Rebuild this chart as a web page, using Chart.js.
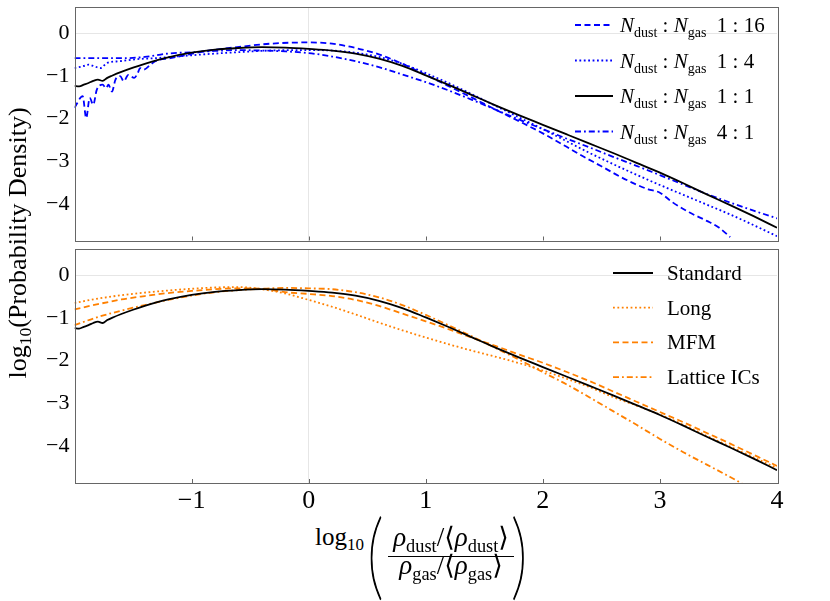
<!DOCTYPE html>
<html>
<head>
<meta charset="utf-8">
<script src="https://cdn.jsdelivr.net/npm/chart.js@4.4.0/dist/chart.umd.min.js"></script>
<style>
  body { margin: 0; background: #fff; }
  #wrap { position: relative; width: 830px; height: 601px; font-family: "Liberation Serif", "DejaVu Serif", serif; color: #000; }
  canvas { position: absolute; left: 0; }
  #top { top: 0; }
  #bot { top: 245px; }
  .lbl { position: absolute; white-space: nowrap; line-height: 1; }
  .lbl sub { font-size: 68%; vertical-align: -0.3em; line-height: 0; }
  .lbl i { font-style: italic; }
  #ytitle { left: -182px; top: 230px; width: 400px; text-align: center; font-size: 26px; transform: rotate(-90deg); }
  #xlog { left: 315px; top: 524px; font-size: 25px; }
  .paren { font-family: Lato, "DejaVu Sans", sans-serif; font-weight: 200; font-size: 94px; top: 505px; transform: scaleX(0.7); transform-origin: left top; -webkit-text-stroke: 1.4px #000; }
  #lp { left: 367px; }
  #rp { left: 511px; }
  .frac { left: 384px; width: 134px; text-align: center; font-size: 27px; }
  #num { top: 524px; }
  #den { top: 552px; }
  #bar { position: absolute; left: 388px; width: 126px; top: 556px; height: 1.3px; background: #000; }
</style>
</head>
<body>
<div id="wrap">
  <canvas id="top" width="830" height="245"></canvas>
  <canvas id="bot" width="830" height="270"></canvas>
  <div class="lbl" id="ytitle">log<sub>10</sub>(Probability Density)</div>
  <div class="lbl" id="xlog">log<sub>10</sub></div>
  <div class="lbl paren" id="lp">(</div>
  <div class="lbl frac" id="num"><i>ρ</i><sub>dust</sub>/⟨<i>ρ</i><sub>dust</sub>⟩</div>
  <div id="bar"></div>
  <div class="lbl frac" id="den"><i>ρ</i><sub>gas</sub>/⟨<i>ρ</i><sub>gas</sub>⟩</div>
  <div class="lbl paren" id="rp">)</div>
</div>
<script>
// axis ticks
const xTicks = [-1, 0, 1, 2, 3, 4];
const yTicks = [0, -1, -2, -3, -4];

// common x grid
const xGrid = [-2, -1.8, -1.6, -1.4, -1.2, -1, -0.8, -0.6, -0.4, -0.2, 0, 0.2, 0.4, 0.6, 0.8, 1,
  1.2, 1.4, 1.6, 1.8, 2, 2.2, 2.4, 2.6, 2.8, 3, 3.2, 3.4, 3.6, 3.8, 4];

// N_dust : N_gas 1 : 1  (also "Standard" in the lower panel)
const xStd = [-2, -1.96, -1.92, -1.88, -1.84, -1.8, -1.76, -1.72, -1.68, -1.6, -1.5, -1.4, -1.2, -1,
  -0.8, -0.6, -0.4, -0.2, 0, 0.2, 0.4, 0.6, 0.8, 1, 1.2, 1.4, 1.6, 1.8, 2, 2.2, 2.4, 2.6, 2.8, 3,
  3.2, 3.4, 3.6, 3.8, 4];
const yStd = [-1.24, -1.25, -1.21, -1.17, -1.12, -1.09, -1.12, -1.05, -1.0, -0.91, -0.81, -0.72,
  -0.57, -0.46, -0.39, -0.35, -0.33, -0.34, -0.37, -0.41, -0.48, -0.60, -0.77, -0.99, -1.22, -1.46,
  -1.70, -1.93, -2.15, -2.37, -2.59, -2.81, -3.04, -3.27, -3.52, -3.78, -4.03, -4.29, -4.56];

// 1 : 16
const x116 = [-2, -1.93, -1.9, -1.87, -1.84, -1.81, -1.76, -1.73, -1.71, -1.68, -1.65, -1.61, -1.58,
  -1.54, -1.49, -1.46, -1.44, -1.41, -1.35, -1.31, -1.18, -1.04, -0.9, -0.61, -0.33, 0, 0.2, 0.4,
  0.6, 0.8, 1, 1.2, 1.4, 1.6, 1.8, 2, 2.2, 2.35, 2.5, 2.65, 2.8, 2.9, 3, 3.1, 3.25, 3.4, 3.5, 3.6];
const y116 = [-1.75, -1.48, -1.99, -1.52, -1.68, -1.33, -1.21, -1.29, -1.21, -1.37, -1.09, -1.01,
  -1.13, -0.98, -1.05, -0.94, -0.82, -0.86, -0.74, -0.66, -0.59, -0.51, -0.43, -0.33, -0.25, -0.22,
  -0.25, -0.35, -0.50, -0.72, -0.98, -1.25, -1.52, -1.80, -2.07, -2.35, -2.66, -2.90, -3.12, -3.35,
  -3.55, -3.66, -3.74, -3.95, -4.20, -4.40, -4.55, -4.78];

// 1 : 4
const x14 = [-2, -1.93, -1.88, -1.83, -1.78, -1.72, -1.61, -1.46, -1.32, -1.18, -1.04, -0.9, -0.61,
  -0.33, 0, 0.2, 0.4, 0.6, 0.8, 1, 1.2, 1.4, 1.6, 1.8, 2, 2.2, 2.4, 2.6, 2.8, 3, 3.2, 3.4, 3.6, 3.8, 4];
const y14 = [-0.82, -0.78, -0.74, -0.78, -0.82, -0.70, -0.66, -0.61, -0.59, -0.56, -0.53, -0.50,
  -0.45, -0.41, -0.40, -0.41, -0.46, -0.56, -0.72, -0.94, -1.18, -1.44, -1.71, -1.98, -2.25, -2.53,
  -2.81, -3.07, -3.32, -3.56, -3.79, -4.02, -4.25, -4.50, -4.76];

// 4 : 1 (on xGrid)
const y41 = [-0.59, -0.59, -0.59, -0.56, -0.48, -0.45, -0.42, -0.40, -0.41, -0.43, -0.47, -0.55,
  -0.66, -0.80, -0.97, -1.15, -1.35, -1.57, -1.80, -2.03, -2.25, -2.47, -2.68, -2.90, -3.11, -3.33,
  -3.55, -3.77, -3.97, -4.16, -4.34];

// lower panel (on xGrid)
const yLong = [-0.65, -0.55, -0.47, -0.41, -0.36, -0.32, -0.29, -0.28, -0.33, -0.43, -0.58, -0.74,
  -0.92, -1.11, -1.29, -1.46, -1.62, -1.77, -1.91, -2.06, -2.23, -2.42, -2.62, -2.85, -3.05, -3.26,
  -3.50, -3.76, -4.01, -4.26, -4.51];
const yMFM = [-0.80, -0.68, -0.57, -0.49, -0.42, -0.37, -0.33, -0.31, -0.32, -0.40, -0.44, -0.49,
  -0.58, -0.72, -0.90, -1.08, -1.27, -1.47, -1.66, -1.86, -2.05, -2.26, -2.48, -2.72, -2.96, -3.20,
  -3.44, -3.69, -3.94, -4.20, -4.46];
const xLat = [-2, -1.8, -1.6, -1.4, -1.2, -1, -0.8, -0.6, -0.4, -0.2, 0, 0.2, 0.4, 0.6, 0.8, 1,
  1.2, 1.4, 1.6, 1.8, 2, 2.2, 2.4, 2.6, 2.8, 3, 3.2, 3.4, 3.6, 3.7];
const yLat = [-1.17, -0.98, -0.83, -0.70, -0.58, -0.48, -0.40, -0.35, -0.32, -0.30, -0.31, -0.33,
  -0.40, -0.52, -0.70, -0.93, -1.18, -1.44, -1.71, -1.98, -2.27, -2.55, -2.86, -3.18, -3.50, -3.83,
  -4.14, -4.43, -4.72, -4.87];

const ratioLabels = ['1 : 16', '1 : 4', '1 : 1', '4 : 1'];
const runLabels = ['Standard', 'Long', 'MFM', 'Lattice ICs'];

const FONT = '"Liberation Serif", "DejaVu Serif", serif';
const blue = '#0000ff', orange = '#ff8000', black = '#000000';
const DASH = [6, 3.5], DOT = [1.8, 2.6], DASHDOT = [6, 3, 1.8, 3];

Chart.defaults.font.family = FONT;

function pts(xs, ys) { return xs.map((x, i) => ({ x: x, y: ys[i] })); }

function line(label, xs, ys, color, dash, order) {
  return {
    label: label, data: pts(xs, ys), borderColor: color, borderDash: dash, borderWidth: 1.8,
    pointRadius: 0, cubicInterpolationMode: 'monotone', fill: false, order: order
  };
}

const fmt = v => v < 0 ? '\u2212' + Math.abs(v) : String(v);
const zeroGrid = c => (c.tick && c.tick.value === 0) ? '#e6e6e6' : 'rgba(0,0,0,0)';

// writes text pieces: [text, 'r' | 'i' | 's']
function drawRich(ctx, parts, x, y) {
  parts.forEach(p => {
    const t = p[0], s = p[1];
    if (s === 's') ctx.font = '14px ' + FONT;
    else if (s === 'i') ctx.font = 'italic 21px ' + FONT;
    else ctx.font = '21px ' + FONT;
    ctx.fillText(t, x, s === 's' ? y + 5 : y);
    x += ctx.measureText(t).width;
  });
}

// frame, inward ticks and the legend inside the panel
const panelDeco = {
  id: 'panelDeco',
  afterDatasetsDraw(chart, args, opts) {
    const ctx = chart.ctx, a = chart.chartArea, x = chart.scales.x;
    ctx.save();
    ctx.setLineDash([]);
    ctx.strokeStyle = '#666';
    ctx.lineWidth = 1;
    ctx.strokeRect(Math.round(a.left) + 0.5, Math.round(a.top) + 0.5,
      Math.round(a.right - a.left), Math.round(a.bottom - a.top));
    xTicks.forEach(v => {
      if (v <= x.min || v >= x.max) return;
      const px = Math.round(x.getPixelForValue(v)) + 0.5;
      ctx.beginPath();
      ctx.moveTo(px, a.bottom);
      ctx.lineTo(px, a.bottom - 4);
      ctx.stroke();
    });
    opts.rows.forEach((row, i) => {
      const ds = chart.data.datasets[row.ds];
      const y = a.top + opts.top + i * opts.gap;
      ctx.strokeStyle = ds.borderColor;
      ctx.lineWidth = ds.borderWidth;
      ctx.setLineDash(ds.borderDash || []);
      ctx.beginPath();
      ctx.moveTo(a.right - opts.lineFrom, y);
      ctx.lineTo(a.right - opts.lineTo, y);
      ctx.stroke();
      ctx.setLineDash([]);
      ctx.fillStyle = '#000';
      ctx.textBaseline = 'alphabetic';
      drawRich(ctx, row.parts, a.right - opts.textAt, y + 7);
    });
    ctx.restore();
  }
};

function panel(id, datasets, deco, showX, padding) {
  return new Chart(document.getElementById(id), {
    type: 'line',
    data: { datasets: datasets },
    plugins: [panelDeco],
    options: {
      responsive: false,
      animation: false,
      layout: { padding: padding },
      plugins: { legend: { display: false }, tooltip: { enabled: false }, panelDeco: deco },
      scales: {
        x: {
          type: 'linear', min: -2, max: 4,
          afterBuildTicks: s => { s.ticks = xTicks.map(v => ({ value: v })); },
          afterFit: s => { s.height = showX ? 30 : 0; s.paddingLeft = 0; s.paddingRight = 0; },
          ticks: { display: showX, color: '#000', font: { size: 26 }, padding: 3, maxRotation: 0, autoSkip: false, callback: fmt },
          grid: { drawTicks: false, color: zeroGrid, lineWidth: 1 },
          border: { display: false }
        },
        y: {
          min: -4.86, max: 0.61,
          afterBuildTicks: s => { s.ticks = yTicks.map(v => ({ value: v })); },
          afterFit: s => { s.width = 74.5; s.paddingTop = 0; s.paddingBottom = 0; },
          ticks: { color: '#000', font: { size: 22 }, padding: 5, callback: fmt },
          grid: { drawTicks: false, color: zeroGrid, lineWidth: 1 },
          border: { display: false }
        }
      }
    }
  });
}

const nRatio = r => [['N', 'i'], ['dust', 's'], [' : ', 'r'], ['N', 'i'], ['gas', 's'], ['  ' + r, 'r']];

panel('top', [
  line(ratioLabels[0], x116, y116, blue, DASH, 3),
  line(ratioLabels[1], x14, y14, blue, DOT, 2),
  line(ratioLabels[2], xStd, yStd, black, [], 0),
  line(ratioLabels[3], xGrid, y41, blue, DASHDOT, 1)
], {
  top: 18, gap: 35.5, lineFrom: 202, lineTo: 164, textAt: 157,
  rows: ratioLabels.map((r, i) => ({ ds: i, parts: nRatio(r) }))
}, false, { left: 0, right: 53, top: 7, bottom: 4.5 });

panel('bot', [
  line(runLabels[0], xStd, yStd, black, [], 0),
  line(runLabels[1], xGrid, yLong, orange, DOT, 1),
  line(runLabels[2], xGrid, yMFM, orange, DASH, 2),
  line(runLabels[3], xLat, yLat, orange, DASHDOT, 3)
], {
  top: 24, gap: 34.7, lineFrom: 164, lineTo: 124, textAt: 110,
  rows: runLabels.map((r, i) => ({ ds: i, parts: [[r, 'r']] }))
}, true, { left: 0, right: 53, top: 4, bottom: 2 });
</script>
</body>
</html>
